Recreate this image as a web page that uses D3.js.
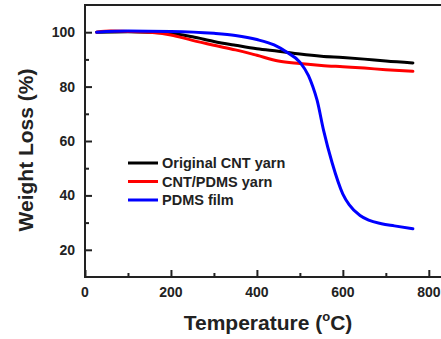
<!DOCTYPE html>
<html>
<head>
<meta charset="utf-8">
<script src="https://cdn.jsdelivr.net/npm/d3@7"></script>
<style>
  body { margin: 0; background: #fff; }
  svg text { font-family: "Liberation Sans", Arial, sans-serif; font-weight: bold; }
</style>
</head>
<body>
<svg id="chart" width="441" height="339"></svg>
<script>
// series: [temperature, weight %]
var originalCNT = [[27,100],[100,100.2],[200,99.6],[250,98.3],[300,96.6],[350,95.2],[400,93.9],[450,93],[500,92],[550,91.2],[600,90.7],[650,90.1],[700,89.4],[763,88.7]];
var cntPdms = [[27,100],[60,100.4],[100,100.3],[150,100],[200,99],[250,97],[300,95.2],[350,93.5],[400,91.5],[450,89.4],[500,88.5],[550,87.8],[600,87.3],[650,86.8],[700,86.2],[763,85.6]];
var pdmsFilm = [[27,100],[100,100.4],[200,100.3],[300,99.6],[350,98.8],[400,97.3],[440,95.3],[470,92.6],[500,89],[520,84],[530,80],[540,75],[555,64],[575,52],[600,40.5],[615,36.5],[640,32.6],[660,30.9],[690,29.6],[720,28.8],[763,27.7]];

var seriesNames = ['Original CNT yarn', 'CNT/PDMS yarn', 'PDMS film'];
var seriesColors = ['#000000', '#ff0000', '#0000ff'];
var xTicks = [0, 200, 400, 600, 800];
var yTicks = [20, 40, 60, 80, 100];

var mLeft = 85, mTop = 5, mBottom = 277, mRight = 446;

var svg = d3.select('#chart');

var x = d3.scaleLinear().domain([0, 840]).range([mLeft, mRight]);
var y = d3.scaleLinear().domain([10, 110]).range([mBottom, mTop]);

// frame
svg.append('rect')
  .attr('x', mLeft).attr('y', mTop)
  .attr('width', mRight - mLeft).attr('height', mBottom - mTop)
  .attr('fill', 'none').attr('stroke', '#222').attr('stroke-width', 2);

// minor ticks
var xMinor = d3.range(100, 840, 200);
var yMinor = d3.range(30, 110, 20);

function styleTicks(g) {
  g.select('.domain').remove();
  g.selectAll('line').attr('stroke', '#222').attr('stroke-width', 2);
}

svg.append('g').attr('transform', `translate(0, ${mBottom})`)
  .call(d3.axisTop(x).tickValues(xTicks).tickSize(7).tickFormat(''))
  .call(styleTicks);
svg.append('g').attr('transform', `translate(0, ${mBottom})`)
  .call(d3.axisTop(x).tickValues(xMinor).tickSize(4).tickFormat(''))
  .call(styleTicks);

svg.append('g').attr('transform', `translate(${mLeft}, 0)`)
  .call(d3.axisRight(y).tickValues(yTicks).tickSize(7).tickFormat(''))
  .call(styleTicks);
svg.append('g').attr('transform', `translate(${mLeft}, 0)`)
  .call(d3.axisRight(y).tickValues(yMinor).tickSize(4).tickFormat(''))
  .call(styleTicks);

// tick labels
svg.selectAll('.xl').data(xTicks).enter().append('text')
  .attr('x', d => x(d)).attr('y', mBottom + 20)
  .attr('text-anchor', 'middle').attr('font-size', 14).attr('fill', '#222')
  .text(d => d);
svg.selectAll('.yl').data(yTicks).enter().append('text')
  .attr('x', mLeft - 10).attr('y', d => y(d) + 5)
  .attr('text-anchor', 'end').attr('font-size', 14).attr('fill', '#222')
  .text(d => d);

// curves
var line = d3.line()
  .x(d => x(d[0]))
  .y(d => y(d[1]))
  .curve(d3.curveMonotoneX);

[originalCNT, cntPdms, pdmsFilm].forEach(function(data, i) {
  svg.append('path')
    .datum(data)
    .attr('d', line)
    .attr('fill', 'none')
    .attr('stroke', seriesColors[i])
    .attr('stroke-width', 3)
    .attr('stroke-linecap', 'round');
});

// legend
var legend = svg.append('g');
seriesNames.forEach(function(name, i) {
  var ly = 163 + i * 18.5;
  legend.append('line')
    .attr('x1', 128).attr('x2', 158).attr('y1', ly).attr('y2', ly)
    .attr('stroke', seriesColors[i]).attr('stroke-width', 3);
  legend.append('text')
    .attr('x', 162).attr('y', ly + 5)
    .attr('font-size', 14.5).attr('fill', '#222')
    .text(name);
});

// axis titles
svg.append('text')
  .attr('transform', 'translate(33, 150) rotate(-90)')
  .attr('text-anchor', 'middle').attr('font-size', 21).attr('fill', '#222')
  .text('Weight Loss (%)');

var xt = svg.append('text')
  .attr('x', 268).attr('y', 330)
  .attr('text-anchor', 'middle').attr('font-size', 21).attr('fill', '#222');
xt.append('tspan').text('Temperature (');
xt.append('tspan').attr('font-size', 13).attr('dy', -9).text('o');
xt.append('tspan').attr('dy', 9).text('C)');
</script>
</body>
</html>
